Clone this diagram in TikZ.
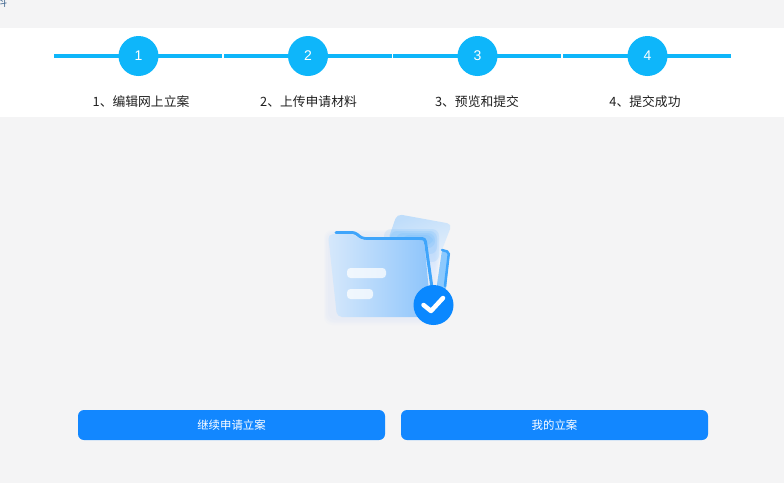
\documentclass[tikz,border=0pt]{standalone}
\usepackage{fontspec}
\newfontfamily\cjk{Noto Sans CJK SC}
\newfontfamily\digitfont{Liberation Sans}
\usetikzlibrary{%
	calc,%
	shapes
}
\definecolor{pagegray}{HTML}{F4F4F5}
\definecolor{stepblue}{HTML}{0EB6FA}
\definecolor{btnblue}{HTML}{1287FF}
\definecolor{folderblue}{HTML}{3FA5FB}
\definecolor{checkblue}{HTML}{0A88FF}
\definecolor{crumbgray}{HTML}{4A6F96}
\definecolor{folderpale}{HTML}{D6E8FB}
\definecolor{folderdeep}{HTML}{8CC4FB}
\definecolor{sheetpale}{HTML}{F1F5FB}
\definecolor{sheetdeep}{HTML}{BFDDFA}
\tikzset{
	stepline/.style={draw=stepblue,line width=4pt},
	stepdot/.style={circle,fill=stepblue,minimum size=40pt,inner sep=0pt,text=white,font=\digitfont\fontsize{14}{14}\selectfont},
	steplabel/.style={text=black!88,inner sep=0pt,font=\cjk\fontsize{12.8}{13}\selectfont},
	actionbtn/.style={rounded corners=6pt,fill=btnblue,text=white,minimum width=307pt,minimum height=30pt,inner sep=0pt,font=\cjk\fontsize{11.4}{12}\selectfont},
	glow/.style={fill=folderblue,opacity=0.014,rounded corners=8pt},
	hotglow/.style={fill=folderblue,opacity=0.11,rounded corners=7pt}
}

\begin{document}
\begin{tikzpicture}[x=1pt,y=-1pt]
		\useasboundingbox (0,0) rectangle (784,483);
		% Page and white band
		\fill[pagegray] (0,0) rectangle (784,483);
		\fill[white] (0,28) rectangle (784,117);
		\node[text=crumbgray,inner sep=0pt,font=\cjk\fontsize{12}{12}\selectfont] (crumb) at (1,2) {料};

		% Line segments between the steps
		\coordinate (s1a) at (54,56);
		\coordinate (s1b) at (222,56);
		\coordinate (s2a) at (224,56);
		\coordinate (s2b) at (392,56);
		\coordinate (s3a) at (393,56);
		\coordinate (s3b) at (561,56);
		\coordinate (s4a) at (563,56);
		\coordinate (s4b) at (731,56);
		\draw[stepline] (s1a) -- (s1b);
		\draw[stepline] (s2a) -- (s2b);
		\draw[stepline] (s3a) -- (s3b);
		\draw[stepline] (s4a) -- (s4b);

		% Steps
		\node[stepdot] (dot1) at (138.5,56) {1};
		\node[stepdot] (dot2) at (308,56) {2};
		\node[stepdot] (dot3) at (477.5,56) {3};
		\node[stepdot] (dot4) at (647.5,56) {4};
		\node[steplabel] (lab1) at (141,102) {1、编辑网上立案};
		\node[steplabel] (lab2) at (308.5,102) {2、上传申请材料};
		\node[steplabel] (lab3) at (477,102) {3、预览和提交};
		\node[steplabel] (lab4) at (645,102) {4、提交成功};

		% Sheet behind the folder
		\shade[left color=sheetdeep,right color=sheetpale,shading angle=20,rounded corners=5pt]
			(397,214) -- (452,224) -- (440,255) -- (436,280) -- (388,240) -- cycle;

		% Glow round the folder
		\fill[glow] (324,230) rectangle (438,325);
		\fill[glow] (325,231) rectangle (437,323);
		\fill[glow] (326,232) rectangle (436,322);
		\fill[glow] (328,234) rectangle (435,320);
		\fill[hotglow] (384,229) rectangle (439,262);
		\fill[hotglow] (390,231) rectangle (437,254);
		\fill[hotglow] (396,233) rectangle (435,248);
		\fill[hotglow] (402,235) rectangle (433,245);

		% Back strip
		\fill[folderblue!60!white,rounded corners=2pt] (442,250) -- (449,251) -- (446,290) -- (435,298) -- cycle;
		\draw[folderblue,line width=2.5pt,line cap=round,rounded corners=2pt] (442,250) -- (449,252) -- (445,286);

		% Folder top edge
		\draw[folderblue,line width=3pt,line cap=round,rounded corners=3pt]
			(336,232.5) -- (355,232.5) -- (362,238.5) -- (425,238.5) -- (433,295);

		% Folder body
		\shade[left color=folderpale,right color=folderdeep,rounded corners=5pt]
			(328,234) -- (354,234) -- (361,240) -- (424,240) -- (431.5,317) -- (337,317) -- cycle;

		% Bars on the folder
		\fill[white,opacity=0.75,rounded corners=3.5pt] (347,268) rectangle (386,278);
		\fill[white,opacity=0.75,rounded corners=3.5pt] (347,289) rectangle (373,299);

		% Check mark
		\node[circle,fill=checkblue,minimum size=40pt,inner sep=0pt] (badge) at (433.5,305) {};
		\coordinate (c1) at ($(badge)+(-10,0)$);
		\coordinate (c2) at ($(badge)+(-2.5,6)$);
		\coordinate (c3) at ($(badge)+(9.5,-7)$);
		\draw[white,line width=4.5pt,line cap=round,line join=round] (c1) -- (c2) -- (c3);

		% Buttons
		\node[actionbtn] (again) at (231.5,425) {继续申请立案};
		\node[actionbtn] (mine) at (554.5,425) {我的立案};
	\end{tikzpicture}
\end{document}
